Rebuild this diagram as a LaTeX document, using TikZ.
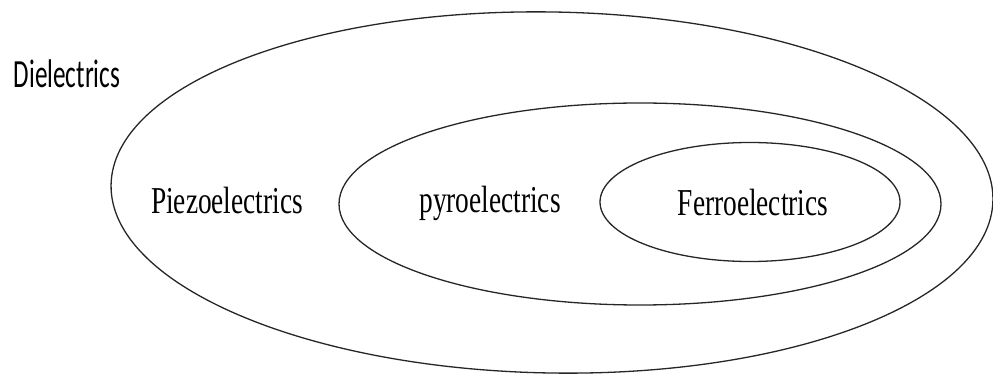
\documentclass[tikz,border=0pt]{standalone}
\usepackage{fontspec}
\usepackage{tikz}
\usetikzlibrary{shapes.geometric}
\newfontfamily\setlabelfont[FakeStretch=0.72]{Liberation Serif}
\newfontfamily\setclassfont[FakeStretch=0.63]{Carlito}

\begin{document}
\begin{tikzpicture}[
  x=1pt, y=1pt,
  ring/.style={draw=black!85, line width=1.3pt, ellipse, inner sep=0pt},
  lbl/.style={font=\setlabelfont\fontsize{38}{40}\selectfont, anchor=base, inner sep=0pt},
  cls/.style={font=\setclassfont\fontsize{40}{42}\selectfont, anchor=base, inner sep=0pt}
]
\useasboundingbox (0,0) rectangle (993,375);

% nested classes
\node[ring, minimum width=882pt, minimum height=361pt, rotate=-1] (diel) at (552,182.5) {};
\node[ring, minimum width=602pt, minimum height=202pt] (pyro) at (640,171) {};
\node[ring, minimum width=300pt, minimum height=119pt] (ferro) at (750,173) {};

% labels
\node[cls] (dieltxt) at (67,287) {Dielectrics};
\node[lbl] (piezotxt) at (227,161) {Piezoelectrics};
\node[lbl] (pyrotxt) at (490,162) {pyroelectrics};
\node[lbl] (ferrotxt) at (753,159) {Ferroelectrics};
\end{tikzpicture}
\end{document}
